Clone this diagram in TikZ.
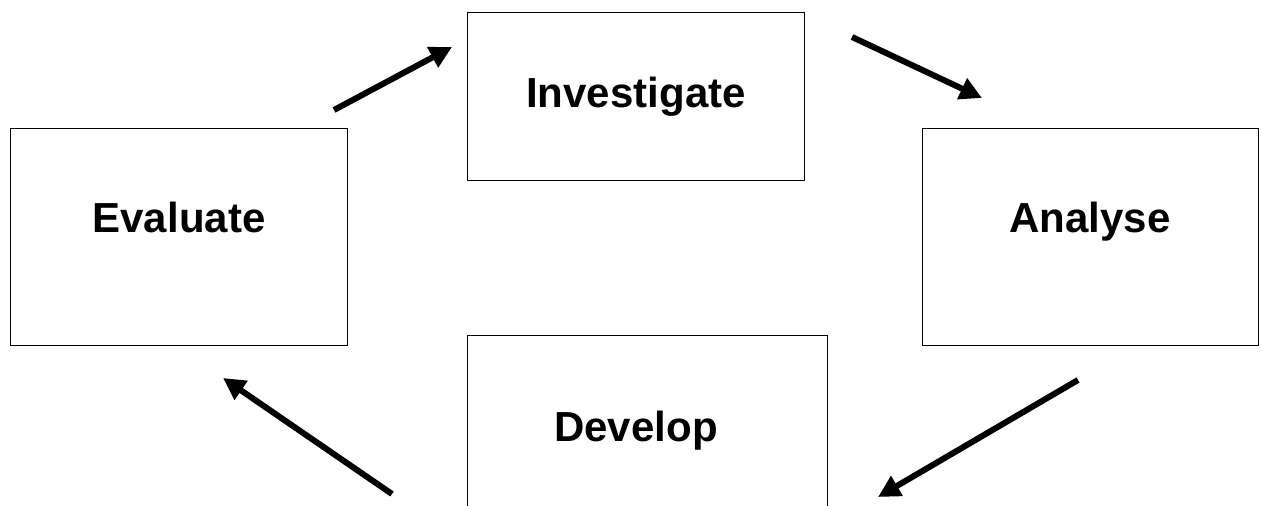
\documentclass[tikz,border=0pt]{standalone}
\usepackage{fontspec}
\setmainfont{Liberation Sans}
\usetikzlibrary{arrows.meta}
\begin{document}
\begin{tikzpicture}[x=1pt,y=-1pt,
  box/.style={draw=black,line width=1.3pt,rectangle,inner sep=0pt,anchor=north west},
  lbl/.style={font=\fontsize{42}{48}\selectfont\bfseries,inner sep=0pt,anchor=base},
  flow/.style={line width=6pt,-{Triangle[length=22pt,width=22pt]}}]
\useasboundingbox (0,0) rectangle (1262,506);
\clip (0,0) rectangle (1262,506);
\fill[white] (0,0) rectangle (1262,506);
\node[box,minimum width=337pt,minimum height=168pt] (inv) at (467,12) {};
\node[box,minimum width=337pt,minimum height=217pt] (eva) at (10,128) {};
\node[box,minimum width=336pt,minimum height=217pt] (ana) at (922,128) {};
\node[box,minimum width=360pt,minimum height=220pt] (dev) at (467,335) {};
\node[lbl] (tinv) at (636,107) {Investigate};
\node[lbl] (teva) at (179,232) {Evaluate};
\node[lbl] (tana) at (1090,232) {Analyse};
\node[lbl] (tdev) at (636,441) {Develop};
\coordinate (a1s) at (334,110); \coordinate (a1e) at (452,47);
\coordinate (a2s) at (852,37); \coordinate (a2e) at (982,98);
\coordinate (a3s) at (1078,380); \coordinate (a3e) at (878,497);
\coordinate (a4s) at (392,494); \coordinate (a4e) at (223,378);
\draw[flow] (a1s) -- (a1e);
\draw[flow] (a2s) -- (a2e);
\draw[flow] (a3s) -- (a3e);
\draw[flow] (a4s) -- (a4e);
\end{tikzpicture}
\end{document}
